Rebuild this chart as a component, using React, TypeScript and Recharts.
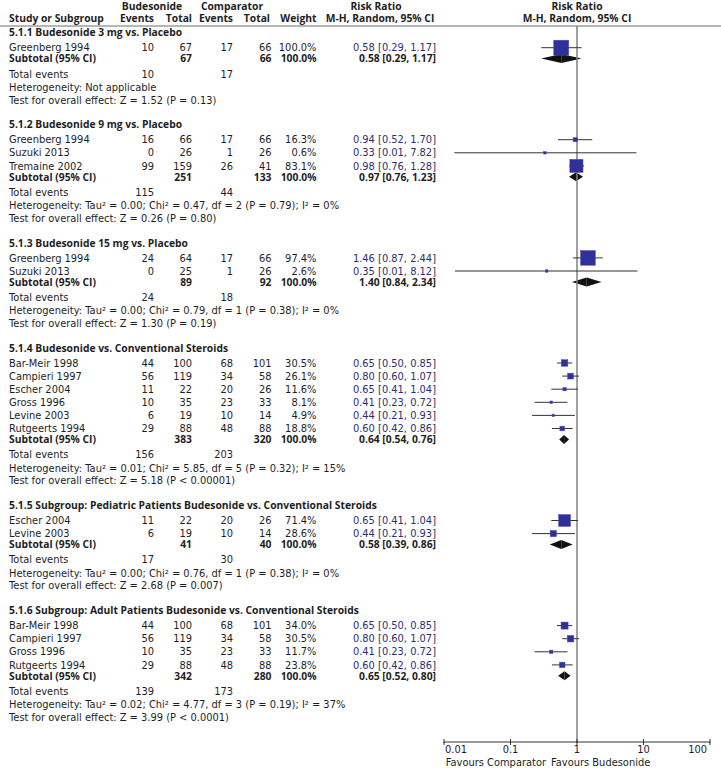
import React from "react";
import {
  ComposedChart,
  Scatter,
  ErrorBar,
  XAxis,
  YAxis,
  ReferenceLine,
  ReferenceArea,
} from "recharts";

// ---- data ----
const subgroupTitles = [
  "5.1.1 Budesonide 3 mg vs. Placebo",
  "5.1.2 Budesonide 9 mg vs. Placebo",
  "5.1.3 Budesonide 15 mg vs. Placebo",
  "5.1.4 Budesonide vs. Conventional Steroids",
  "5.1.5 Subgroup: Pediatric Patients Budesonide vs. Conventional Steroids",
  "5.1.6 Subgroup: Adult Patients Budesonide vs. Conventional Steroids",
];

const studyNames = [
  ["Greenberg 1994"],
  ["Greenberg 1994", "Suzuki 2013", "Tremaine 2002"],
  ["Greenberg 1994", "Suzuki 2013"],
  ["Bar-Meir 1998", "Campieri 1997", "Escher 2004", "Gross 1996", "Levine 2003", "Rutgeerts 1994"],
  ["Escher 2004", "Levine 2003"],
  ["Bar-Meir 1998", "Campieri 1997", "Gross 1996", "Rutgeerts 1994"],
];

const budEvents = [[10], [16, 0, 99], [24, 0], [44, 56, 11, 10, 6, 29], [11, 6], [44, 56, 10, 29]];
const budTotals = [[67], [66, 26, 159], [64, 25], [100, 119, 22, 35, 19, 88], [22, 19], [100, 119, 35, 88]];
const compEvents = [[17], [17, 1, 26], [17, 1], [68, 34, 20, 23, 10, 48], [20, 10], [68, 34, 23, 48]];
const compTotals = [[66], [66, 26, 41], [66, 26], [101, 58, 26, 33, 14, 88], [26, 14], [101, 58, 33, 88]];
const weights = [
  [100],
  [16.3, 0.6, 83.1],
  [97.4, 2.6],
  [30.5, 26.1, 11.6, 8.1, 4.9, 18.8],
  [71.4, 28.6],
  [34.0, 30.5, 11.7, 23.8],
];
const ratios = [
  [0.58],
  [0.94, 0.33, 0.98],
  [1.46, 0.35],
  [0.65, 0.8, 0.65, 0.41, 0.44, 0.6],
  [0.65, 0.44],
  [0.65, 0.8, 0.41, 0.6],
];
const lowers = [
  [0.29],
  [0.52, 0.0143, 0.76],
  [0.87, 0.0146],
  [0.5, 0.6, 0.41, 0.23, 0.21, 0.42],
  [0.41, 0.21],
  [0.5, 0.6, 0.23, 0.42],
];
const uppers = [
  [1.17],
  [1.7, 7.82, 1.28],
  [2.44, 8.12],
  [0.85, 1.07, 1.04, 0.72, 0.93, 0.86],
  [1.04, 0.93],
  [0.85, 1.07, 0.72, 0.86],
];

const subtotalBud = [67, 251, 89, 383, 41, 342];
const subtotalComp = [66, 133, 92, 320, 40, 280];
const subtotalRatio = [0.58, 0.97, 1.4, 0.64, 0.58, 0.65];
const subtotalLower = [0.29, 0.76, 0.84, 0.54, 0.39, 0.52];
const subtotalUpper = [1.17, 1.23, 2.34, 0.76, 0.86, 0.8];
const totalBudEvents = [10, 115, 24, 156, 17, 139];
const totalCompEvents = [17, 44, 18, 203, 30, 173];

const heterogeneity = [
  "Heterogeneity: Not applicable",
  "Heterogeneity: Tau² = 0.00; Chi² = 0.47, df = 2 (P = 0.79); I² = 0%",
  "Heterogeneity: Tau² = 0.00; Chi² = 0.79, df = 1 (P = 0.38); I² = 0%",
  "Heterogeneity: Tau² = 0.01; Chi² = 5.85, df = 5 (P = 0.32); I² = 15%",
  "Heterogeneity: Tau² = 0.00; Chi² = 0.76, df = 1 (P = 0.38); I² = 0%",
  "Heterogeneity: Tau² = 0.02; Chi² = 4.77, df = 3 (P = 0.19); I² = 37%",
];
const overallTests = [
  "Test for overall effect: Z = 1.52 (P = 0.13)",
  "Test for overall effect: Z = 0.26 (P = 0.80)",
  "Test for overall effect: Z = 1.30 (P = 0.19)",
  "Test for overall effect: Z = 5.18 (P < 0.00001)",
  "Test for overall effect: Z = 2.68 (P = 0.007)",
  "Test for overall effect: Z = 3.99 (P < 0.0001)",
];

const axisTicks = [0.01, 0.1, 1, 10, 100];
const axisLabels = ["0.01", "0.1", "1", "10", "100"];
const favoursLabels = ["Favours Comparator", "Favours Budesonide"];

// ---- layout ----
const W = 721;
const H = 768;
const AXIS_H = 26;
const PLOT_BOTTOM = H - AXIS_H;
const RULE_Y = 26;
const FONT = "'DejaVu Sans', sans-serif";
const FONT_BOLD = "'Open Sans', sans-serif";
const FS = 9.9;
const FS_BOLD = 10.3;
const TEXT = "#1e1e1e";
const CI_TEXT = "#2e2e6e";
const SQUARE = "#30309a";

const COL = { name: 9, budEv: 154, budTot: 192, compEv: 233, compTot: 271.5, weight: 316.5, rr: 436 };

type Row = { kind: string; y: number; g: number; i: number };
const rows: Row[] = [
  { kind: "head1", y: 6.2, g: -1, i: -1 },
  { kind: "head2", y: 18.5, g: -1, i: -1 },
  { kind: "rule", y: RULE_Y, g: -1, i: -1 },
];
let cursor = 32.7;
subgroupTitles.forEach((_, g) => {
  rows.push({ kind: "title", y: cursor, g, i: -1 });
  cursor += 15;
  studyNames[g].forEach((_, i) => {
    rows.push({ kind: "study", y: cursor, g, i });
    cursor += 13.1;
  });
  cursor += 10.9 - 13.1;
  rows.push({ kind: "subtotal", y: cursor, g, i: -1 });
  cursor += 15.3;
  rows.push({ kind: "events", y: cursor, g, i: -1 });
  cursor += 13.3;
  rows.push({ kind: "het", y: cursor, g, i: -1 });
  cursor += 12.7;
  rows.push({ kind: "test", y: cursor, g, i: -1 });
  cursor += 24.8;
});
const rowByY = new Map(rows.map((r) => [r.y, r]));

const studyPoints = rows
  .filter((r) => r.kind === "study")
  .map((r) => {
    const rr = ratios[r.g][r.i];
    return {
      x: rr,
      y: r.y,
      w: weights[r.g][r.i],
      err: [rr - lowers[r.g][r.i], uppers[r.g][r.i] - rr],
    };
  });
const subtotalRows = rows.filter((r) => r.kind === "subtotal");

const fmt = (v: number) => v.toFixed(2);
const ciText = (rr: number, lo: number, hi: number) => `${fmt(rr)} [${fmt(lo)}, ${fmt(hi)}]`;

function T(props: any) {
  const { children, bold, anchor, color, y, ...rest } = props;
  return (
    <text
      fontFamily={bold ? FONT_BOLD : FONT}
      fontSize={bold ? FS_BOLD : FS}
      fontWeight={bold ? 700 : 400}
      fill={color || TEXT}
      textAnchor={anchor || "start"}
      y={y + (bold ? 3.7 : 3.6)}
      {...rest}
    >
      {children}
    </text>
  );
}

function RowTick(props: any) {
  const row = rowByY.get(props.payload.value);
  if (!row) return null;
  const b = props.y;
  const { g, i } = row;
  switch (row.kind) {
    case "head1":
      return (
        <g>
          <T x={152} y={b} bold anchor="middle">Budesonide</T>
          <T x={232} y={b} bold anchor="middle">Comparator</T>
          <T x={376} y={b} bold anchor="middle">Risk Ratio</T>
          <T x={577} y={b} bold anchor="middle">Risk Ratio</T>
        </g>
      );
    case "head2":
      return (
        <g>
          <T x={COL.name} y={b} bold>Study or Subgroup</T>
          <T x={COL.budEv} y={b} bold anchor="end">Events</T>
          <T x={COL.budTot} y={b} bold anchor="end">Total</T>
          <T x={COL.compEv} y={b} bold anchor="end">Events</T>
          <T x={270} y={b} bold anchor="end">Total</T>
          <T x={COL.weight} y={b} bold anchor="end">Weight</T>
          <T x={380} y={b} bold anchor="middle">M-H, Random, 95% CI</T>
          <T x={577} y={b} bold anchor="middle">M-H, Random, 95% CI</T>
        </g>
      );
    case "rule":
      return <line x1={0} x2={W} y1={props.y} y2={props.y} stroke="#6e6e6e" strokeWidth={1.2} />;
    case "title":
      return <T x={COL.name} y={b} bold>{subgroupTitles[g]}</T>;
    case "study":
      return (
        <g>
          <T x={COL.name} y={b}>{studyNames[g][i]}</T>
          <T x={COL.budEv} y={b} anchor="end">{budEvents[g][i]}</T>
          <T x={COL.budTot} y={b} anchor="end">{budTotals[g][i]}</T>
          <T x={COL.compEv} y={b} anchor="end">{compEvents[g][i]}</T>
          <T x={COL.compTot} y={b} anchor="end">{compTotals[g][i]}</T>
          <T x={COL.weight} y={b} anchor="end">{weights[g][i].toFixed(1)}%</T>
          <T x={COL.rr} y={b} anchor="end" color={CI_TEXT}>
            {ciText(ratios[g][i], lowers[g][i], uppers[g][i])}
          </T>
        </g>
      );
    case "subtotal":
      return (
        <g>
          <T x={COL.name} y={b} bold>Subtotal (95% CI)</T>
          <T x={COL.budTot} y={b} bold anchor="end">{subtotalBud[g]}</T>
          <T x={COL.compTot} y={b} bold anchor="end">{subtotalComp[g]}</T>
          <T x={COL.weight} y={b} bold anchor="end">100.0%</T>
          <T x={COL.rr} y={b} bold anchor="end">
            {ciText(subtotalRatio[g], subtotalLower[g], subtotalUpper[g])}
          </T>
        </g>
      );
    case "events":
      return (
        <g>
          <T x={COL.name} y={b}>Total events</T>
          <T x={COL.budEv} y={b} anchor="end">{totalBudEvents[g]}</T>
          <T x={COL.compEv} y={b} anchor="end">{totalCompEvents[g]}</T>
        </g>
      );
    case "het":
      return <T x={COL.name} y={b}>{heterogeneity[g]}</T>;
    case "test":
      return <T x={COL.name} y={b}>{overallTests[g]}</T>;
    default:
      return null;
  }
}

// tick labels sit just under the axis; marks also poke a little above it
function AxisTick(props: any) {
  const { x, y, index } = props;
  const last = axisTicks.length - 1;
  const anchor = index === 0 ? "start" : index === last ? "end" : "middle";
  const dx = index === 0 ? 1 : index === last ? -3 : 0;
  return (
    <g>
      <line x1={x} x2={x} y1={y - 7} y2={y - 3} stroke="#333" strokeWidth={1} />
      <T x={x + dx} y={y + 3.5} anchor={anchor}>
        {axisLabels[index]}
      </T>
    </g>
  );
}

function FavoursLabel(props: any) {
  const vb = props.viewBox || { x: 444, y: PLOT_BOTTOM, width: 266 };
  const split = vb.x + vb.width * 0.393;
  const cy = vb.y + 20;
  return (
    <g>
      <T x={split - 2.5} y={cy} anchor="end">{favoursLabels[0]}</T>
      <T x={split + 2.5} y={cy} anchor="start">{favoursLabels[1]}</T>
    </g>
  );
}

const squareSide = (w: number) => Math.max(2.5, 15 * Math.pow(w / 100, 0.7));

function StudySquare(props: any) {
  const { cx, cy, payload } = props;
  const s = squareSide(payload.w);
  return (
    <rect x={cx - s / 2} y={cy - s / 2} width={s} height={s} fill={SQUARE} stroke="#4c4cb4" strokeWidth={0.5} />
  );
}

const LeftHalf = (p: any) => (
  <polygon
    points={`${p.x},${p.y + p.height / 2} ${p.x + p.width},${p.y} ${p.x + p.width},${p.y + p.height}`}
    fill="#111"
  />
);
const RightHalf = (p: any) => (
  <polygon
    points={`${p.x},${p.y} ${p.x + p.width},${p.y + p.height / 2} ${p.x},${p.y + p.height}`}
    fill="#111"
  />
);

export default function App() {
  return (
    <div style={{ position: "absolute", left: 0, top: 0, background: "#fff" }}>
      <ComposedChart width={W} height={H} margin={{ top: 0, right: 11, bottom: 0, left: 443 }}>
        <XAxis
          dataKey="x"
          type="number"
          scale="log"
          domain={[0.01, 100]}
          allowDataOverflow
          ticks={axisTicks}
          interval={0}
          height={AXIS_H}
          tickSize={3}
          tickMargin={1}
          stroke="#333"
          tick={<AxisTick />}
          label={<FavoursLabel />}
        />
        <YAxis
          dataKey="y"
          type="number"
          domain={[0, PLOT_BOTTOM]}
          reversed
          width={1}
          ticks={rows.map((r) => r.y)}
          interval={0}
          axisLine={false}
          tickLine={false}
          tick={<RowTick />}
        />
        <ReferenceLine
          segment={[
            { x: 1, y: RULE_Y },
            { x: 1, y: PLOT_BOTTOM },
          ]}
          stroke="#808080"
          strokeWidth={1.5}
        />
        {subtotalRows.map((r) => (
          <ReferenceArea
            key={`l${r.g}`}
            x1={subtotalLower[r.g]}
            x2={subtotalRatio[r.g]}
            y1={r.y - 4.5}
            y2={r.y + 4.5}
            shape={LeftHalf}
          />
        ))}
        {subtotalRows.map((r) => (
          <ReferenceArea
            key={`r${r.g}`}
            x1={subtotalRatio[r.g]}
            x2={subtotalUpper[r.g]}
            y1={r.y - 4.5}
            y2={r.y + 4.5}
            shape={RightHalf}
          />
        ))}
        <Scatter data={studyPoints} shape={<StudySquare />} isAnimationActive={false}>
          <ErrorBar dataKey="err" direction="x" width={0} stroke="#333" strokeWidth={1} />
        </Scatter>
      </ComposedChart>
    </div>
  );
}
